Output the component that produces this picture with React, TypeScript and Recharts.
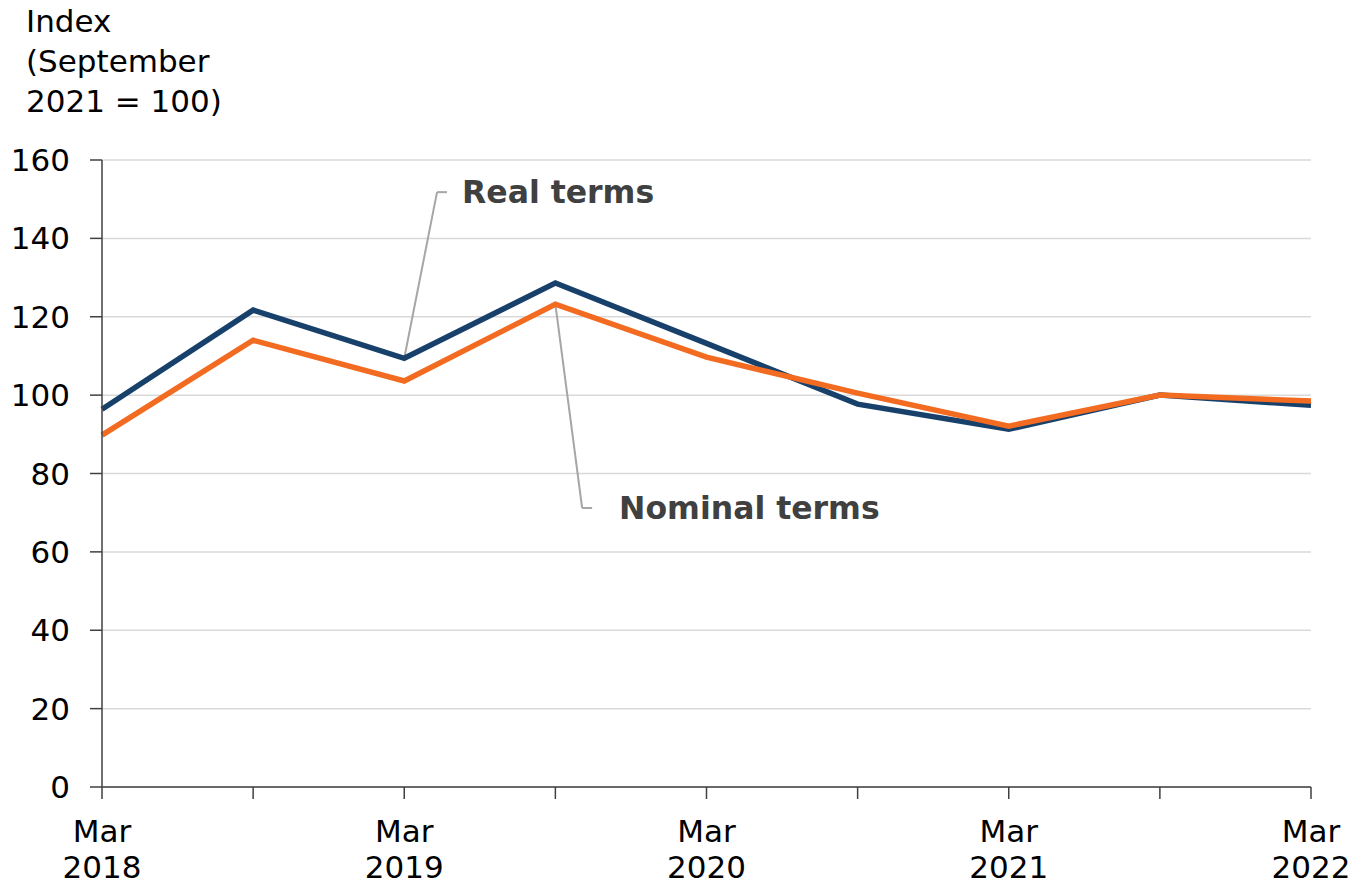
import {
  LineChart,
  Line,
  XAxis,
  YAxis,
  CartesianGrid,
  ReferenceLine,
  Label,
} from 'recharts';

// half-yearly observations, Mar 2018 .. Mar 2022
const periods = [
  'Mar 2018', 'Sep 2018', 'Mar 2019', 'Sep 2019', 'Mar 2020',
  'Sep 2020', 'Mar 2021', 'Sep 2021', 'Mar 2022',
];
const realTerms = [96.4, 121.7, 109.4, 128.6, 113.2, 97.7, 91.3, 100, 97.4];
const nominalTerms = [89.8, 114.0, 103.6, 123.2, 109.7, 100.5, 92.1, 100, 98.5];

const yTicks = [0, 20, 40, 60, 80, 100, 120, 140, 160];
const xTickLabels: (string[] | null)[] = [
  ['Mar', '2018'], null, ['Mar', '2019'], null, ['Mar', '2020'],
  null, ['Mar', '2021'], null, ['Mar', '2022'],
];
const titleLines = ['Index', '(September', '2021 = 100)'];

// leader lines for the series labels, in data coordinates (x = period index)
const realLeader = [
  { x: 2, y: 109.4 },
  { x: 2.217, y: 151.8 },
  { x: 2.283, y: 151.8 },
];
const nominalLeader = [
  { x: 3, y: 123.2 },
  { x: 3.177, y: 71.2 },
  { x: 3.243, y: 71.2 },
];

const data = periods.map((p, i) => ({
  i,
  period: p,
  real: realTerms[i],
  nominal: nominalTerms[i],
}));

const FONT = '"DejaVu Sans", Verdana, sans-serif';

function XTick(props: any) {
  const { x, payload } = props;
  const lines = xTickLabels[payload.value];
  if (!lines) return <g />;
  return (
    <text x={x} textAnchor="middle" fontSize={31} fontFamily={FONT} fill="#000">
      <tspan x={x} y={842}>{lines[0]}</tspan>
      <tspan x={x} y={878}>{lines[1]}</tspan>
    </text>
  );
}

export default function App() {
  return (
    <div style={{ position: 'absolute', left: 0, top: 0, width: 1367, height: 884, background: '#fff' }}>
      <div
        style={{
          position: 'absolute',
          left: 26,
          top: 1,
          fontFamily: FONT,
          fontSize: 31,
          lineHeight: '40px',
          color: '#000',
        }}
      >
        {titleLines.map((t) => (
          <div key={t}>{t}</div>
        ))}
      </div>
      <LineChart
        width={1367}
        height={884}
        data={data}
        margin={{ top: 160, right: 56, left: 0, bottom: 0 }}
      >
        <CartesianGrid vertical={false} stroke="#d9d9d9" strokeWidth={1.5} />
        <XAxis
          dataKey="i"
          type="number"
          domain={[0, 8]}
          ticks={periods.map((_, i) => i)}
          height={97}
          tickSize={12}
          tick={<XTick />}
          stroke="#404040"
          strokeWidth={1.5}
          interval={0}
        />
        <YAxis
          domain={[0, 160]}
          ticks={yTicks}
          width={102}
          tickSize={12}
          tickMargin={20}
          stroke="#404040"
          strokeWidth={1.5}
          tick={{ fontSize: 31, fontFamily: FONT, fill: '#000' }}
          interval={0}
        />
        <ReferenceLine
          segment={[realLeader[0], realLeader[1]]}
          stroke="#a6a6a6"
          strokeWidth={2}
        />
        <ReferenceLine segment={[realLeader[1], realLeader[2]]} stroke="#a6a6a6" strokeWidth={2}>
          <Label
            value="Real terms"
            position="right"
            offset={15}
            fontSize={31.5}
            fontWeight="bold"
            fontFamily={FONT}
            fill="#404040"
          />
        </ReferenceLine>
        <ReferenceLine
          segment={[nominalLeader[0], nominalLeader[1]]}
          stroke="#a6a6a6"
          strokeWidth={2}
        />
        <ReferenceLine segment={[nominalLeader[1], nominalLeader[2]]} stroke="#a6a6a6" strokeWidth={2}>
          <Label
            value="Nominal terms"
            position="right"
            offset={27}
            fontSize={31.5}
            fontWeight="bold"
            fontFamily={FONT}
            fill="#404040"
          />
        </ReferenceLine>
        <Line
          type="linear"
          dataKey="real"
          stroke="#17416b"
          strokeWidth={5.5}
          dot={false}
          isAnimationActive={false}
        />
        <Line
          type="linear"
          dataKey="nominal"
          stroke="#f26b21"
          strokeWidth={5.5}
          dot={false}
          isAnimationActive={false}
        />
      </LineChart>
    </div>
  );
}
